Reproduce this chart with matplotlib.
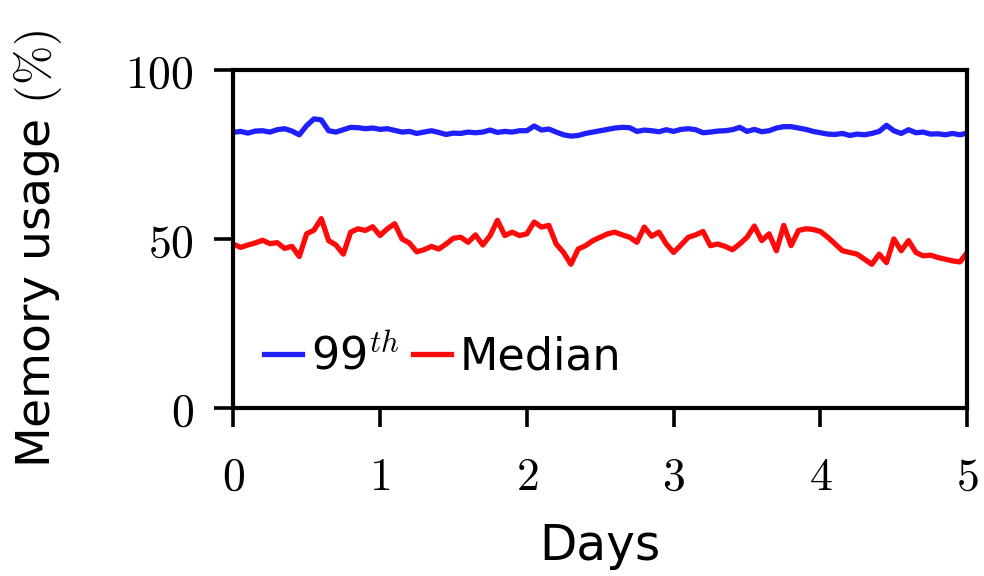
import numpy as np
import matplotlib
matplotlib.use("Agg")
import matplotlib.pyplot as plt
from matplotlib.ticker import FuncFormatter

# sampling grid (days) and the two traces
days = np.arange(0, 5.001, 0.05)

p99 = [81.5, 81.8, 81.3, 81.9, 82.0, 81.6, 82.3, 82.6, 81.9, 80.8,
       83.5, 85.5, 85.2, 82.0, 81.6, 82.3, 83.0, 82.9, 82.6, 82.8,
       82.4, 82.6, 82.1, 81.6, 81.8, 81.2, 81.6, 82.0, 81.5, 80.9,
       81.3, 81.2, 81.6, 81.4, 81.6, 82.2, 81.5, 81.8, 81.6, 82.0,
       82.0, 83.4, 82.2, 82.5, 81.6, 80.8, 80.4, 80.6, 81.2, 81.6,
       82.0, 82.4, 82.8, 83.0, 82.9, 81.8, 82.2, 82.0, 81.7, 82.3,
       81.8, 82.4, 82.6, 82.3, 81.4, 81.6, 81.9, 82.0, 82.3, 83.0,
       81.8, 82.4, 81.7, 82.0, 82.8, 83.2, 83.2, 82.8, 82.4, 81.8,
       81.4, 81.0, 80.9, 81.2, 80.6, 81.0, 80.8, 81.2, 81.8, 83.6,
       82.0, 81.2, 82.3, 81.4, 81.6, 81.0, 81.1, 80.8, 81.2, 80.8,
       81.3]

median = [48.5, 47.5, 48.2, 48.8, 49.6, 48.6, 48.9, 47.2, 47.8, 44.8,
          51.5, 52.6, 56.0, 49.5, 48.2, 45.5, 52.0, 53.0, 52.5, 53.6,
          51.0, 53.0, 54.5, 50.0, 48.8, 46.2, 46.8, 47.8, 47.0, 48.5,
          50.2, 50.5, 49.0, 51.2, 48.2, 51.0, 55.5, 51.0, 52.0, 51.0,
          51.5, 55.0, 53.5, 54.0, 48.5, 46.0, 42.5, 47.0, 48.0, 49.5,
          50.5, 51.5, 52.0, 51.2, 50.5, 49.0, 53.5, 50.8, 52.0, 48.5,
          46.0, 48.2, 50.5, 51.2, 52.2, 48.0, 48.5, 47.8, 46.8, 48.5,
          50.5, 53.8, 49.5, 51.5, 46.5, 54.0, 48.0, 52.5, 53.0, 52.8,
          52.2, 50.5, 48.5, 46.5, 46.0, 45.5, 44.0, 42.5, 45.5, 43.0,
          50.0, 46.5, 49.5, 46.0, 45.0, 45.2, 44.5, 44.0, 43.5, 43.2,
          46.0]

xticks = [0, 1, 2, 3, 4, 5]
yticks = [0, 50, 100]

plt.rcParams['mathtext.fontset'] = 'cm'
plt.rcParams['font.family'] = ['DejaVu Sans']

fig = plt.figure(figsize=(9.84, 5.76), dpi=100)
ax = fig.add_axes([0.237, 0.2917, 0.746, 0.587])

ax.plot(days, p99, color='#1f1fff', lw=3.8, label='99$^{th}$')
ax.plot(days, median, color='#ff0a0a', lw=3.8, label='Median')

ax.set_xlim(0, 5)
ax.set_ylim(0, 100)
ax.set_xticks(xticks)
ax.set_yticks(yticks)
fmt = FuncFormatter(lambda v, p: f'${v:g}$')
ax.xaxis.set_major_formatter(fmt)
ax.yaxis.set_major_formatter(fmt)
ax.tick_params(direction='out', length=14, width=2.6, labelsize=33)
ax.tick_params(axis='x', pad=20)
ax.tick_params(axis='y', pad=14)

for s in ax.spines.values():
    s.set_linewidth(3)

ax.set_xlabel('Days', fontsize=35, labelpad=16)
ax.set_ylabel('Memory usage $(\\%)$', fontsize=34)
ax.yaxis.set_label_coords(-0.23, 0.47)

ax.legend(loc='lower left', bbox_to_anchor=(0.0, -0.005), ncol=2, frameon=False,
          fontsize=32, handlelength=0.85, handletextpad=0.2, columnspacing=0.3,
          borderaxespad=0.3)

fig.savefig('out.png', dpi=100)
